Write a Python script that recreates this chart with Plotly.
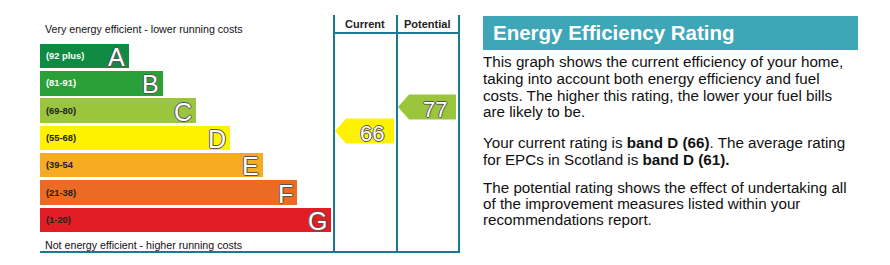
import plotly.graph_objects as go

# ---------------- data ----------------
bands = ["A", "B", "C", "D", "E", "F", "G"]
band_ranges = ["(92 plus)", "(81-91)", "(69-80)", "(55-68)", "(39-54", "(21-38)", "(1-20)"]
band_lengths = [89, 123, 156, 190, 223, 257, 291]
band_colors = ["#0f8a43", "#2aa138", "#9bc53d", "#fff200", "#f5ab22", "#ec6b24", "#e31d24"]
range_label_colors = ["white", "white", "#222222", "#222222", "#222222", "#222222", "#222222"]

columns = ["Current", "Potential"]
ratings = [66, 77]
rating_bands = ["D", "C"]

title = "Energy Efficiency Rating"
paragraphs = [
    ["This graph shows the current efficiency of your home,",
     "taking into account both energy efficiency and fuel",
     "costs. The higher this rating, the lower your fuel bills",
     "are likely to be."],
    ["Your current rating is <b>band D (66)</b>. The average rating",
     "for EPCs in Scotland is <b>band D (61).</b>"],
    ["The potential rating shows the effect of undertaking all",
     "of the improvement measures listed within your",
     "recommendations report."],
]
top_label = "Very energy efficient - lower running costs"
bottom_label = "Not energy efficient - higher running costs"

# ---------------- layout constants ----------------
W, H = 890, 265
FONT = "Liberation Sans, Arial, sans-serif"
TEAL = "#1d7993"
HEADER_BG = "#3fa6b8"
bar_x0 = 40
row_top = 56
row_pitch = 27.3
bar_h = 24.5
col_edges = [334, 397, 459]
table_top, header_line, table_bottom = 15, 33, 252

band_y = {b: row_top + i * row_pitch for i, b in enumerate(bands)}
color_of = dict(zip(bands, band_colors))


def rating_to_y(r):
    # vertical position of the rating arrow
    return 131 - (r - 66) * 24 / 11


fig = go.Figure()

fig.add_trace(go.Bar(
    orientation="h",
    y=[band_y[b] for b in bands],
    x=band_lengths,
    base=bar_x0,
    width=bar_h,
    marker=dict(color=band_colors, line=dict(width=0)),
    hoverinfo="skip",
    showlegend=False,
))

annotations = []
shapes = []

outline = "-1px 0 0 #555, 1px 0 0 #555, 0 -1px 0 #555, 0 1px 0 #555"

for b, rng, ln, lc in zip(bands, band_ranges, band_lengths, range_label_colors):
    y = band_y[b]
    annotations.append(dict(x=bar_x0 + 4, y=y, text="<b>" + rng + "</b>", xanchor="left", yanchor="middle",
                            showarrow=False, font=dict(family=FONT, size=9.33, color=lc)))
    annotations.append(dict(x=bar_x0 + ln - 2, y=y + 1, text=b, xanchor="right", yanchor="middle",
                            showarrow=False, font=dict(family=FONT, size=25, color="white", shadow=outline)))

annotations.append(dict(x=43, y=29, text=top_label, xanchor="left", yanchor="middle", showarrow=False,
                        font=dict(family=FONT, size=10.67, color="#111111")))
annotations.append(dict(x=43, y=245, text=bottom_label, xanchor="left", yanchor="middle", showarrow=False,
                        font=dict(family=FONT, size=10.67, color="#111111")))

# table lines
line = dict(color=TEAL, width=2)
for xe in col_edges:
    shapes.append(dict(type="line", x0=xe, x1=xe, y0=table_top, y1=table_bottom, line=line, layer="above"))
shapes.append(dict(type="line", x0=col_edges[0], x1=col_edges[-1], y0=header_line, y1=header_line, line=line))
shapes.append(dict(type="line", x0=bar_x0, x1=col_edges[-1] + 1, y0=table_bottom, y1=table_bottom, line=line))

for i, name in enumerate(columns):
    cx = (col_edges[i] + col_edges[i + 1]) / 2
    annotations.append(dict(x=cx - 1, y=24, text="<b>" + name + "</b>", xanchor="center", yanchor="middle",
                            showarrow=False, font=dict(family=FONT, size=11, color="#222222")))

# rating arrows
for i, (r, b) in enumerate(zip(ratings, rating_bands)):
    cy = rating_to_y(r)
    tip = col_edges[i] + 1
    shoulder = tip + 11
    right = col_edges[i + 1] - 3
    hh = 12.5
    fig.add_trace(go.Scatter(
        x=[tip, shoulder, right, right, shoulder, tip],
        y=[cy, cy - hh, cy - hh, cy + hh, cy + hh, cy],
        mode="lines", fill="toself", fillcolor=color_of[b],
        line=dict(width=0, color=color_of[b]), hoverinfo="skip", showlegend=False,
    ))
    annotations.append(dict(x=(shoulder + right) / 2 + 2, y=cy + 2, text=str(r), xanchor="center",
                            yanchor="middle", showarrow=False,
                            font=dict(family=FONT, size=22, color="white", shadow=outline)))

# right panel
shapes.append(dict(type="rect", x0=483, x1=858, y0=16, y1=50, fillcolor=HEADER_BG, line=dict(width=0),
                   layer="below"))
annotations.append(dict(x=491, y=32, text="<b>" + title + "</b>", xanchor="left", yanchor="middle",
                        showarrow=False, font=dict(family=FONT, size=20.5, color="white")))

baselines = [[66.7, 83.3, 100, 116.5], [147.3, 164], [192.3, 208.3, 224.5]]
for para, bl in zip(paragraphs, baselines):
    for txt, b in zip(para, bl):
        annotations.append(dict(x=481, y=b - 5, text=txt, xanchor="left", yanchor="middle", showarrow=False,
                                font=dict(family=FONT, size=15.2, color="#111111")))

fig.update_layout(
    width=W, height=H,
    margin=dict(l=0, r=0, t=0, b=0),
    paper_bgcolor="white", plot_bgcolor="white",
    xaxis=dict(range=[0, W], visible=False, fixedrange=True),
    yaxis=dict(range=[H, 0], visible=False, fixedrange=True),
    shapes=shapes, annotations=annotations,
    bargap=0,
)

fig.write_html("out.html", config={"displayModeBar": False})
